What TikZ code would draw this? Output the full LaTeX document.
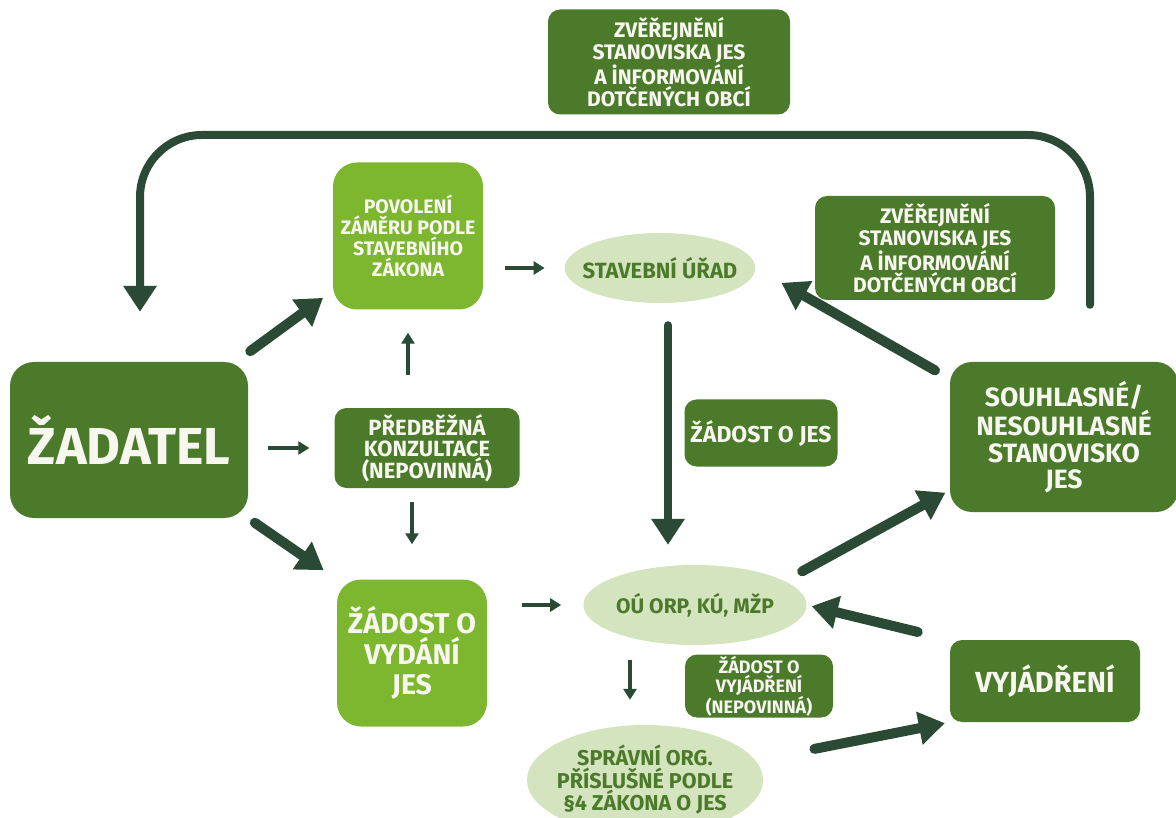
\documentclass[tikz,border=0pt]{standalone}
\usepackage{fontspec}
\setmainfont{Fira Sans}
\usetikzlibrary{arrows.meta,shapes.geometric,calc}

\definecolor{boxdark}{HTML}{4C7A2B}
\definecolor{boxlight}{HTML}{7DB72F}
\definecolor{ovalfill}{HTML}{D4E4BF}
\definecolor{ovaltext}{HTML}{4B7A2A}
\definecolor{arrowcol}{HTML}{2B4A35}
\definecolor{boxtext}{HTML}{F7F7F0}

\tikzset{
  fs/.style 2 args={font=\bfseries\fontsize{#1}{#2}\selectfont},
  darkbox/.style={fill=boxdark, text=boxtext, rounded corners=12pt, align=center, inner sep=0pt},
  lightbox/.style={fill=boxlight, text=boxtext, rounded corners=24pt, align=center, inner sep=0pt},
  oval/.style={ellipse, fill=ovalfill, text=ovaltext, align=center, inner sep=0pt},
  thinarrow/.style={draw=arrowcol, line width=4pt, -{Triangle[length=11pt,width=13pt]}},
  thickarrow/.style={draw=arrowcol, line width=10pt, line cap=round, -{Triangle[length=26pt,width=32pt]}},
  looparrow/.style={draw=arrowcol, line width=8pt, line cap=round, -{Triangle[length=26pt,width=32pt]}},
}

\begin{document}
\begin{tikzpicture}[x=1pt,y=-1pt]
    %%%%% START %%%%%
    \useasboundingbox (0,0) rectangle (1176,818);

    % top row
    \node[darkbox, fs={21}{22.5}, minimum width=242pt, minimum height=105pt] (zverejneniA) at (669,62)
        {ZVĚŘEJNĚNÍ\\STANOVISKA JES\\A İNFORMOVÁNÍ\\DOTČENÝCH OBCÍ};
    \node[lightbox, fs={19.5}{21}, minimum width=150pt, minimum height=147pt] (povoleni) at (408,236)
        {POVOLENÍ\\ZÁMĚRU PODLE\\STAVEBNÍHO\\ZÁKONA};
    \node[oval, fs={22}{21}, inner xsep=-10pt, minimum width=190pt, minimum height=70pt] (stavebni) at (660,268)
        {STAVEBNÍ ÚŘAD};
    \node[darkbox, fs={21}{22.5}, minimum width=240pt, minimum height=104pt] (zverejneniB) at (935,248)
        {ZVĚŘEJNĚNÍ\\STANOVISKA JES\\A İNFORMOVÁNÍ\\DOTČENÝCH OBCÍ};

    % middle row
    \node[darkbox, rounded corners=24pt, fs={52}{56}, minimum width=238pt, minimum height=156pt] (zadatel) at (129,440)
        {ŽADATEL};
    \node[darkbox, fs={22}{21.5}, minimum width=185pt, minimum height=80pt] (predbezna) at (427,448)
        {PŘEDBĚŽNÁ\\KONZULTACE\\(NEPOVINNÁ)};
    \node[darkbox, fs={23}{23}, minimum width=153pt, minimum height=67pt] (zadostjes) at (761,433)
        {ŽÁDOST O JES};
    \node[darkbox, rounded corners=22pt, fs={26.5}{26.5}, minimum width=228pt, minimum height=150pt] (souhlasne) at (1064,437)
        {SOUHLASNÉ/\\NESOUHLASNÉ\\STANOVISKO\\JES};

    % bottom row
    \node[lightbox, fs={28.5}{30.5}, minimum width=150pt, minimum height=147pt] (zadostvyd) at (412,653)
        {ŽÁDOST O\\VYDÁNÍ\\JES};
    \node[oval, fs={21}{21}, minimum width=216pt, minimum height=80pt] (ou) at (695,605)
        {OÚ ORP, KÚ, MŽP};
    \node[darkbox, fs={18}{19}, minimum width=148pt, minimum height=63pt] (zadostvyj) at (759,686)
        {ŽÁDOST O\\VYJÁDŘENÍ\\(NEPOVINNÁ)};
    \node[darkbox, fs={29}{29}, minimum width=190pt, minimum height=82pt] (vyjadreni) at (1045,681)
        {VYJÁDŘENÍ};
    \node[oval, fs={21.5}{22.5}, inner xsep=-5pt, minimum width=236pt, minimum height=110pt] (spravni) at (645,780)
        {SPRÁVNÍ ORG.\\PŘÍSLUŠNÉ PODLE\\§4 ZÁKONA O JES};

    % thin arrows
    \draw[thinarrow, shorten <=20pt, shorten >=25pt] (zadatel.east |- predbezna.west) -- (predbezna.west);
    \draw[thinarrow, shorten <=33pt, shorten >=23pt] (predbezna.north -| povoleni.south) -- (povoleni.south);
    \draw[thinarrow, shorten <=14pt, shorten >=35pt] (predbezna.south -| zadostvyd.north) -- (zadostvyd.north);
    \draw[thinarrow, shorten <=22pt, shorten >=20pt] (povoleni.east |- stavebni.west) -- (stavebni.west);
    \draw[thinarrow, shorten <=35pt, shorten >=22pt] (zadostvyd.east |- ou.west) -- (ou.west);
    \draw[thinarrow, shorten <=15pt, shorten >=25pt] ([xshift=-65pt]ou.south) -- ([xshift=-65pt]ou.south |- spravni.north);

    % thick arrows
    \draw[thickarrow, shorten <=18pt, shorten >=12pt] (zadatel) -- (povoleni);
    \draw[thickarrow, shorten <=8pt, shorten >=16pt] (zadatel.south east) -- (zadostvyd.north west);
    \draw[thickarrow, line width=8pt, shorten <=22pt, shorten >=20pt] ([xshift=8pt]stavebni.south) -- ([xshift=8pt]stavebni.south |- ou.north);
    \draw[thickarrow, shorten <=17pt, shorten >=30pt] (souhlasne.153) -- (stavebni.east);
    \draw[thickarrow, shorten <=20pt, shorten >=5pt] (ou.15) -- (souhlasne.205);
    \draw[thickarrow, shorten <=33pt, shorten >=5pt] (vyjadreni.north west) -- (ou.east);
    \draw[thickarrow, shorten <=60pt, shorten >=5pt] (spravni.10) -- (vyjadreni.south west);

    % loop back to the applicant
    \coordinate (looptop) at (669,135);
    \draw[looparrow, rounded corners=62pt, shorten <=57pt, shorten >=50pt]
        ([xshift=26pt]souhlasne.north) |- (looptop) -| ([xshift=11pt]zadatel.north);
    %%%%% END %%%%%
\end{tikzpicture}
\end{document}
